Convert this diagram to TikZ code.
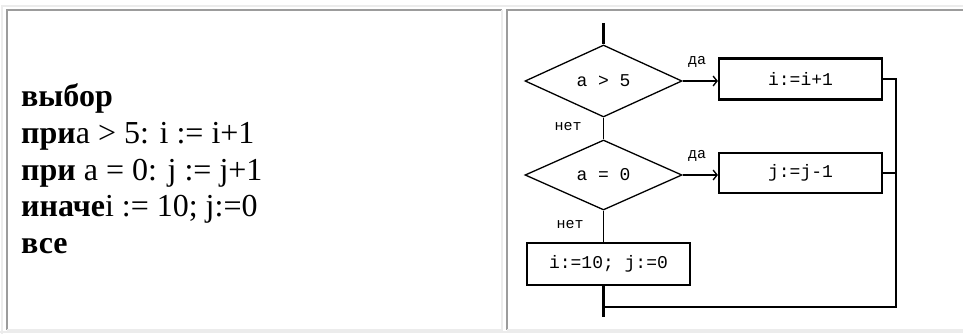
\documentclass[tikz,border=0pt]{standalone}
\usepackage{fontspec}
\setmainfont{Liberation Serif}
\newfontfamily\fcmono{Liberation Mono}
\usetikzlibrary{shapes.geometric,arrows.meta}
\definecolor{bdark}{HTML}{9C9C9C}
\definecolor{blight}{HTML}{ECECEC}
\tikzset{
  ln/.style={line width=1.3pt, black},
  thickln/.style={line width=2.6pt, black},
  dec/.style={draw, ln, diamond, inner sep=0pt, minimum width=157pt, font=\fcmono\fontsize{18}{18}\selectfont},
  actbox/.style={draw, line width=2.2pt, rectangle, inner sep=0pt, minimum width=163pt, font=\fcmono\fontsize{18}{18}\selectfont},
  lbl/.style={inner sep=0pt, font=\fcmono\fontsize{15}{15}\selectfont},
  code/.style={anchor=base west, inner sep=0pt, font=\fontsize{32}{37}\selectfont},
  arr/.style={ln, -{Straight Barb[length=4pt,width=10pt,line width=1.3pt]}},
}
\begin{document}
\begin{tikzpicture}[x=1pt,y=-1pt]
\useasboundingbox (0,0) rectangle (963,334);
% table borders
\draw[blight, line width=2pt] (1.5,334) -- (1.5,6) -- (963,6);
\draw[blight, line width=2pt] (0,331.5) -- (963,331.5);
\draw[bdark, line width=2pt] (7,330) -- (7,10) -- (502,10);
\draw[blight, line width=2pt] (502,10) -- (502,330) -- (7,330);
\draw[bdark, line width=2pt] (507,330) -- (507,10) -- (963,10);
\draw[blight, line width=2pt] (507,330) -- (963,330);
% left text
\node[code] (t1) at (21,106.5) {\textbf{выбор}};
\node[code] (t2) at (21,143.3) {\textbf{при}a > 5: i := i+1};
\node[code] (t3) at (21,180.1) {\textbf{при} a = 0: j := j+1};
\node[code] (t4) at (21,216.9) {\textbf{иначе}i := 10; j:=0};
\node[code] (t5) at (21,253.7) {\textbf{все}};
% flowchart
\coordinate (top) at (603.5,23);
\node[dec, minimum height=72pt] (d1) at (603.5,81) {a > 5};
\node[dec, minimum height=70pt] (d2) at (603.5,175) {a = 0};
\node[actbox, minimum height=41pt] (b1) at (800.5,79) {i:=i+1};
\node[actbox, minimum height=40pt] (b2) at (800.5,173) {j:=j-1};
\node[actbox, minimum height=42pt] (b3) at (608.5,264) {i:=10; j:=0};
\node[lbl] (y1) at (697,62) {да};
\node[lbl] (y2) at (697,156) {да};
\node[lbl] (n1) at (568,127) {нет};
\node[lbl] (n2) at (570,225) {нет};
\coordinate (bot) at (603.5,317);
\coordinate (join) at (603.5,307);
\coordinate (rj) at (896,307);
\draw[thickln] (top) -- (d1.north);
\draw[arr] (d1.east) -- (d1.east -| b1.west);
\draw[arr] (d2.east) -- (d2.east -| b2.west);
\draw[ln] (d1.south) -- (d2.north);
\draw[ln] (d2.south) -- (d2.south |- b3.north);
\draw[thickln] (b3.south -| d2.south) -- (bot);
\draw[ln] (b1.east) -- (b1.east -| rj) -- (rj) -- (join);
\draw[ln] (b2.east) -- (b2.east -| rj);
\end{tikzpicture}
\end{document}
